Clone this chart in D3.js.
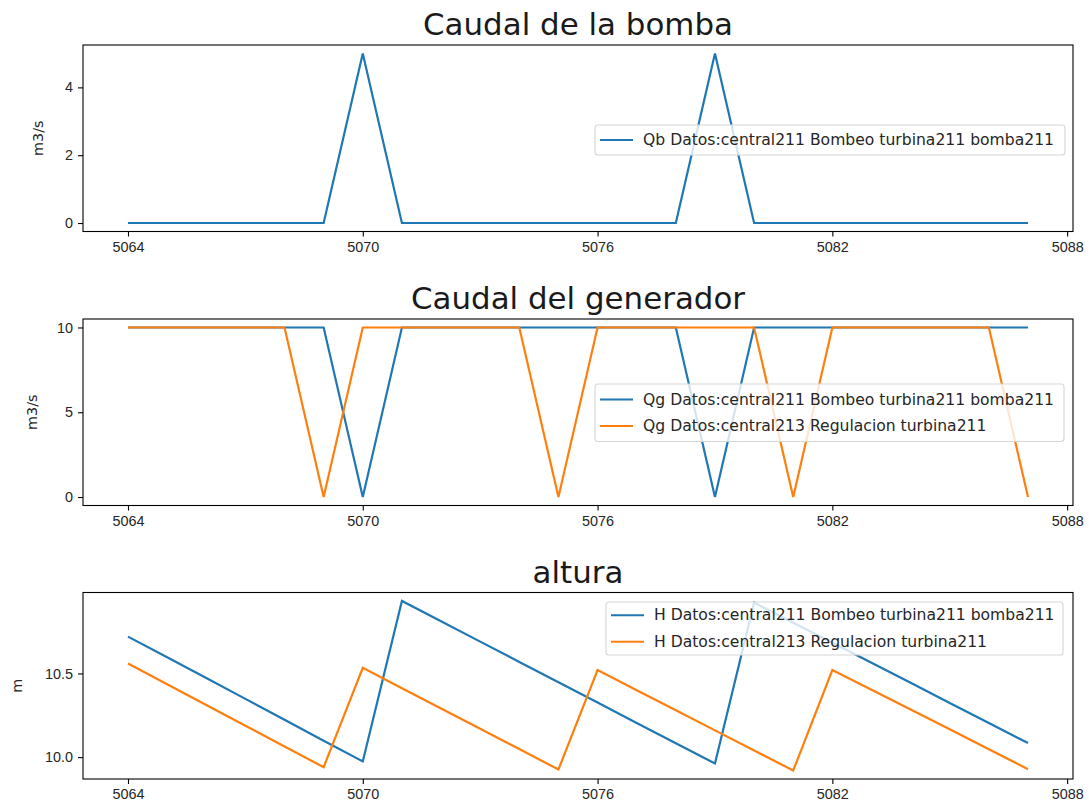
<!DOCTYPE html>
<html>
<head>
<meta charset="utf-8">
<script src="https://cdn.jsdelivr.net/npm/d3@7"></script>
<style>
  body { margin: 0; background: #fff; }
  svg { display: block; font-family: "DejaVu Sans", sans-serif; }
  .tick text { fill: #262626; }
</style>
</head>
<body>
<svg id="chart" width="1089" height="812"></svg>
<script>
var hours = [5064, 5065, 5066, 5067, 5068, 5069, 5070, 5071, 5072, 5073, 5074, 5075,
             5076, 5077, 5078, 5079, 5080, 5081, 5082, 5083, 5084, 5085, 5086, 5087];

var qbBombeo = [0, 0, 0, 0, 0, 0, 5, 0, 0, 0, 0, 0,
                0, 0, 0, 5, 0, 0, 0, 0, 0, 0, 0, 0];

var qgBombeo = [10, 10, 10, 10, 10, 10, 0, 10, 10, 10, 10, 10,
                10, 10, 10, 0, 10, 10, 10, 10, 10, 10, 10, 10];
var qgRegulacion = [10, 10, 10, 10, 10, 0, 10, 10, 10, 10, 10, 0,
                    10, 10, 10, 10, 10, 0, 10, 10, 10, 10, 10, 0];

var hBombeo = [10.72, 10.597, 10.473, 10.348, 10.223, 10.098, 9.974, 10.933, 10.812, 10.690, 10.569, 10.447,
               10.326, 10.204, 10.083, 9.962, 10.923, 10.803, 10.683, 10.564, 10.444, 10.324, 10.204, 10.084];
var hRegulacion = [10.56, 10.436, 10.312, 10.188, 10.064, 9.94, 10.534, 10.412, 10.290, 10.169, 10.048, 9.926,
                   10.52, 10.400, 10.280, 10.160, 10.040, 9.92, 10.52, 10.402, 10.284, 10.166, 10.047, 9.928];

var xTicks = [5064, 5070, 5076, 5082, 5088];

var titles = ["Caudal de la bomba", "Caudal del generador", "altura"];
var yLabels = ["m3/s", "m3/s", "m"];
var yTicks = [[0, 2, 4], [0, 5, 10], [10.0, 10.5]];
var yFormats = ["d", "d", ".1f"];

var legendBombeo = ["Qb Datos:central211 Bombeo turbina211 bomba211",
                    "Qg Datos:central211 Bombeo turbina211 bomba211",
                    "H Datos:central211 Bombeo turbina211 bomba211"];
var legendRegulacion = [null,
                        "Qg Datos:central213 Regulacion turbina211",
                        "H Datos:central213 Regulacion turbina211"];

var blue = "#1f77b4", orange = "#ff7f0e";

var left = 83, right = 1073, plotH = 186.5;
var tops = [45, 319, 592.5];
var legendBoxes = [{x: 595, y: 125, w: 470, h: 30},
                   {x: 595, y: 384, w: 469, h: 57.5},
                   {x: 606, y: 602, w: 457, h: 53}];
var yLabelX = [38, 32, 17];

var svg = d3.select('#chart');

function pad(ext){
  var span = ext[1] - ext[0];
  return [ext[0] - span * 0.05, ext[1] + span * 0.05];
}

var x = d3.scaleLinear().domain(pad(d3.extent(hours))).range([left, right]);

function drawPanel(i, seriesList){
  var top = tops[i];
  var allVals = [].concat.apply([], seriesList.map(s => s.values));
  var y = d3.scaleLinear().domain(pad(d3.extent(allVals))).range([top + plotH, top]);

  var g = svg.append('g').classed('panel', true);

  g.append('g')
   .attr('transform', 'translate(0,' + (top + plotH) + ')')
   .call(d3.axisBottom(x).tickValues(xTicks).tickFormat(d3.format('d')).tickSizeOuter(0).tickSize(5).tickPadding(5))
   .call(a => a.select('.domain').remove())
   .selectAll('text').style('font-size', '14.4px');

  g.append('g')
   .attr('transform', 'translate(' + left + ',0)')
   .call(d3.axisLeft(y).tickValues(yTicks[i]).tickFormat(d3.format(yFormats[i])).tickSizeOuter(0).tickSize(5).tickPadding(5))
   .call(a => a.select('.domain').remove())
   .selectAll('text').style('font-size', '14.4px');

  g.selectAll('.tick line').attr('stroke', '#000').attr('stroke-width', 1.1);

  var line = d3.line().x((d, k) => x(hours[k])).y(d => y(d));
  seriesList.forEach(function(s){
    g.append('path')
     .datum(s.values)
     .attr('d', line)
     .attr('fill', 'none')
     .attr('stroke', s.color)
     .attr('stroke-width', 2.2)
     .attr('stroke-linejoin', 'miter');
  });

  g.append('rect')
   .attr('x', left).attr('y', top)
   .attr('width', right - left).attr('height', plotH)
   .attr('fill', 'none').attr('stroke', '#000').attr('stroke-width', 1.1);

  g.append('text')
   .attr('x', (left + right) / 2).attr('y', top - 10)
   .attr('text-anchor', 'middle')
   .style('font-size', '30.9px').attr('fill', '#1a1a1a')
   .text(titles[i]);

  g.append('text')
   .attr('transform', 'translate(' + yLabelX[i] + ',' + (top + plotH / 2) + ') rotate(-90)')
   .attr('text-anchor', 'middle').attr('dominant-baseline', 'central')
   .style('font-size', '14.4px').attr('fill', '#262626')
   .text(yLabels[i]);

  var lb = legendBoxes[i];
  var leg = g.append('g');
  leg.append('rect')
     .attr('x', lb.x).attr('y', lb.y).attr('width', lb.w).attr('height', lb.h)
     .attr('rx', 3).attr('fill', 'rgba(255,255,255,0.8)')
     .attr('stroke', '#d6d6d6').attr('stroke-width', 1.1);
  var rowH = 26.5;
  var firstY = lb.y + (lb.h - rowH * (seriesList.length - 1)) / 2;
  seriesList.forEach(function(s, k){
    var cy = firstY + k * rowH;
    leg.append('line')
       .attr('x1', lb.x + 5).attr('x2', lb.x + 38)
       .attr('y1', cy).attr('y2', cy)
       .attr('stroke', s.color).attr('stroke-width', 2.2);
    leg.append('text')
       .attr('x', lb.x + 48).attr('y', cy)
       .attr('dominant-baseline', 'central')
       .style('font-size', '15.6px').attr('fill', '#262626')
       .text(s.label);
  });
}

drawPanel(0, [{values: qbBombeo, color: blue, label: legendBombeo[0]}]);
drawPanel(1, [{values: qgBombeo, color: blue, label: legendBombeo[1]},
              {values: qgRegulacion, color: orange, label: legendRegulacion[1]}]);
drawPanel(2, [{values: hBombeo, color: blue, label: legendBombeo[2]},
              {values: hRegulacion, color: orange, label: legendRegulacion[2]}]);
</script>
</body>
</html>
